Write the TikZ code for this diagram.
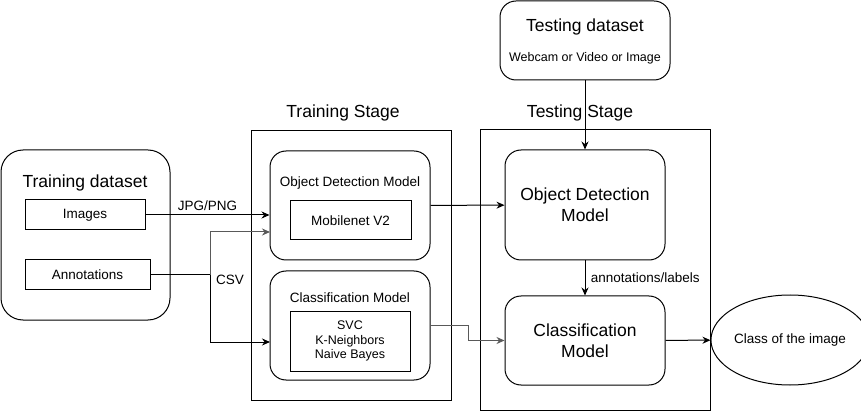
\documentclass[tikz,border=0pt]{standalone}
\usepackage{fontspec}
\setmainfont{Liberation Sans}
\usepackage{tikz}
\usetikzlibrary{arrows.meta,shapes.geometric}
\newcommand{\titleFont}[0]{\fontsize{17.5}{21}\selectfont}
\newcommand{\midFont}[0]{\fontsize{13.5}{16}\selectfont}
\newcommand{\smallFont}[0]{\fontsize{12.5}{14.5}\selectfont}

\begin{document}
\begin{tikzpicture}[x=1pt, y=-1pt, line width=1pt, >={Stealth[length=8pt,width=7pt]}]
  \tikzset{box/.style={draw, minimum width=#1, inner sep=0pt},
           roundbox/.style={draw, rounded corners=16pt, inner sep=0pt},
           txt/.style={inner sep=0pt, align=center}}
  \useasboundingbox (0,0) rectangle (861,411);
  % training dataset
  \node[roundbox, minimum width=169, minimum height=170, rounded corners=22pt](trainset) at (85.5,235) {};
  \node[txt, font=\titleFont](trainlbl) at (85,183) {Training dataset};
  \node[box=120, minimum height=30, font=\midFont](imgs) at (85,215) {Images};
  \node[box=125, minimum height=30, font=\midFont](annots) at (87.5,275) {Annotations};
  % training stage
  \node[box=200, minimum height=269](trainstage) at (351,265.5) {};
  \node[txt, font=\titleFont](trainstagelbl) at (343,113) {Training Stage};
  \node[roundbox, minimum width=160, minimum height=109](odtrain) at (350,205.5) {};
  \node[txt, font=\midFont](odtrainlbl) at (350,183) {Object Detection Model};
  \node[box=121, minimum height=39, font=\midFont](mobnet) at (350.5,220.5) {Mobilenet V2};
  \node[roundbox, minimum width=160, minimum height=109](cltrain) at (350,325.5) {};
  \node[txt, font=\midFont](cltrainlbl) at (350,298) {Classification Model};
  \node[box=120, minimum height=60, font=\smallFont, align=center](clalgo) at (350,341) {SVC\\K-Neighbors\\Naive Bayes};
  % testing stage
  \node[box=230, minimum height=280](teststage) at (595,270) {};
  \node[txt, font=\titleFont](teststagelbl) at (580,113) {Testing Stage};
  \node[roundbox, minimum width=170, minimum height=79](testset) at (585,40.5) {};
  \node[txt, font=\titleFont](testsetlbl) at (585,27) {Testing dataset};
  \node[txt, font=\smallFont](testsrc) at (585,58) {Webcam or Video or Image};
  \node[roundbox, minimum width=160, minimum height=110, font=\titleFont, align=center](odtest) at (585,205) {Object Detection\\Model};
  \node[roundbox, minimum width=160, minimum height=89, font=\titleFont, align=center](cltest) at (585,340.5) {Classification\\Model};
  \node[ellipse, draw, minimum width=140, minimum height=90, inner sep=0pt, font=\midFont](clsout) at (790,340) {Class of the image};
  % connectors
  \coordinate(csvsplit) at (210,275);
  \coordinate(odin) at (270,232);
  \coordinate(clin) at (270,342);
  \draw[->] (imgs.east) -- (odtrain.west |- imgs.east) node[midway, above=1pt, font=\midFont](jpglbl){JPG/PNG};
  \draw (annots.east) -- (csvsplit);
  \draw[->, black!65] (csvsplit) |- (odin);
  \draw[->] (csvsplit) |- (clin);
  \node[txt, font=\midFont](csvlbl) at (230,280) {CSV};
  \draw[->] (odtrain) -- (odtest);
  \draw[->, black!65] (cltrain.east) -- ++(38,0) |- (cltest.west);
  \draw[->] (testset) -- (odtest);
  \draw[->] (odtest) -- (cltest) node[midway, right=2pt, font=\midFont](annlbl){annotations/labels};
  \draw[->] (cltest) -- (clsout);
\end{tikzpicture}
\end{document}
